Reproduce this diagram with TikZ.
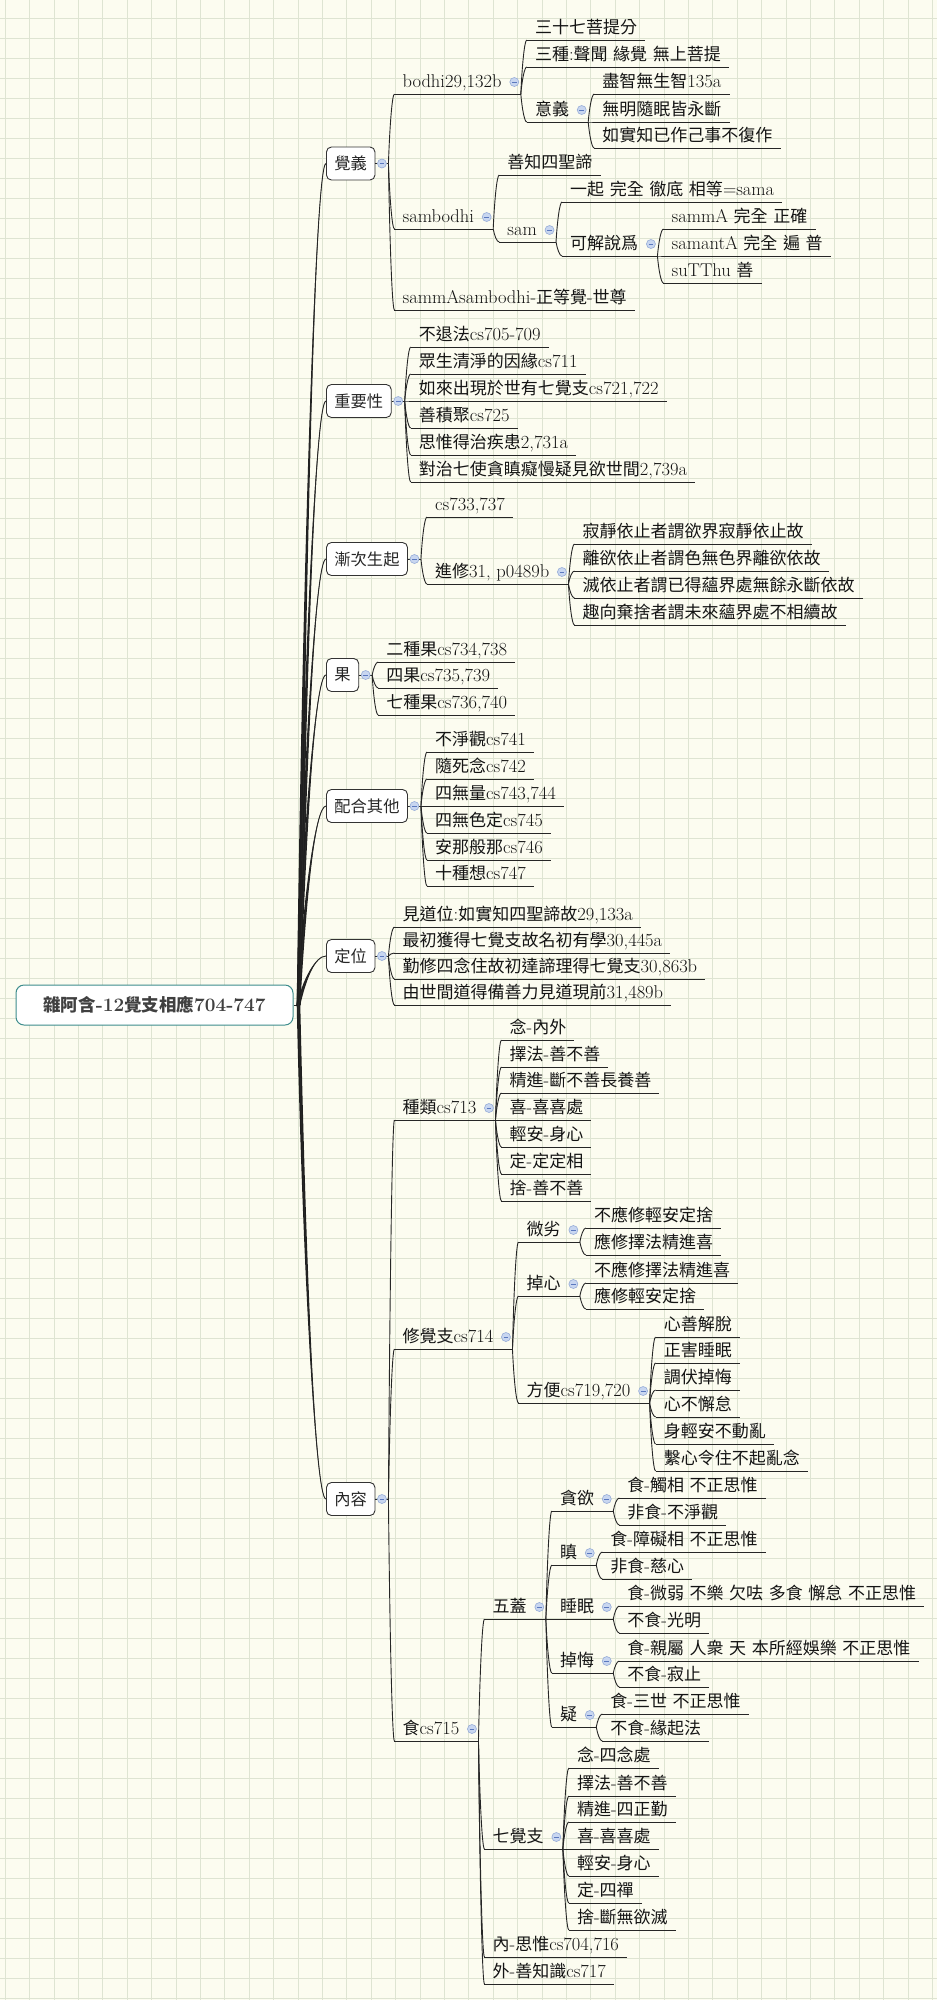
\documentclass[tikz,border=0pt]{standalone}
\usepackage{fontspec}
\usetikzlibrary{calc}
\newfontfamily\cjkfont{Noto Sans CJK TC}[Scale=0.919]
\XeTeXinterchartokenstate=1
\newXeTeXintercharclass\CJKcls
\makeatletter
\count@="4E00
\loop
\XeTeXcharclass\count@=\CJKcls
\ifnum\count@<"9FFF
\advance\count@\@ne
\repeat
\makeatother
\XeTeXinterchartoks 0 \CJKcls = {\begingroup\cjkfont}
\XeTeXinterchartoks 4095 \CJKcls = {\begingroup\cjkfont}
\XeTeXinterchartoks \CJKcls 0 = {\endgroup}
\XeTeXinterchartoks \CJKcls 4095 = {\endgroup}
\definecolor{bgc}{RGB}{252,252,240}
\definecolor{gridc}{RGB}{222,228,210}
\definecolor{togf}{RGB}{200,214,240}
\definecolor{togd}{RGB}{150,172,215}
\definecolor{togm}{RGB}{90,120,190}
\definecolor{rootd}{RGB}{60,140,140}
\tikzset{
  kid/.style={anchor=south west, inner xsep=8pt, inner ysep=0pt, text height=13pt, text depth=6.5pt, font=\fontsize{18.5}{21}\selectfont, text=black!92},
  uline/.style={line width=0.9pt, black!85},
  branch/.style={line width=0.9pt, black!85},
  tog/.style={circle, draw=togd, fill=togf, line width=0.6pt, minimum size=9pt, inner sep=0pt,
    path picture={\draw[togm, line width=0.8pt] ([xshift=-2.4pt]path picture bounding box.center) -- ([xshift=2.4pt]path picture bounding box.center);}},
  lone/.style={draw=black!80, line width=0.9pt, rounded corners=5pt, fill=white, minimum height=33pt, inner xsep=8pt, inner ysep=0pt, anchor=west, font=\fontsize{17.7}{20}\selectfont, text=black!85},
  rootbox/.style={draw=rootd, line width=1pt, rounded corners=8pt, fill=white, minimum width=277pt, minimum height=40pt, font=\bfseries\fontsize{19}{22}\selectfont, text=black!75}
}
\newcommand\conn[2]{\draw[branch] let \p1=(#1), \p2=(#2) in (\p1) .. controls ({\x1+0.2*(\x2-\x1)},{\y1+0.5*(\y2-\y1)}) and ({\x1+0.6*(\x2-\x1)},\y2) .. (\p2);}
\newcommand\kid[4]{\node[kid] (#1) at ($(#2 |- 0,#3)+(6,0)$) {#4};
  \draw[uline] (#1.south west) -- (#1.south east);
  \conn{#2}{#1.south west}}
\newcommand\pkid[4]{\node[kid] (#1) at ($(#2 |- 0,#3)+(6,0)$) {#4};
  \coordinate (#1o) at ($(#1.south east)+(11,0)$);
  \draw[uline] (#1.south west) -- (#1o);
  \node[tog] (#1t) at ($(#1.south east)+(4.5,-12)$) {};
  \conn{#2}{#1.south west}}
\newcommand\lbox[3]{\node[lone] (#1) at (326,#2) {#3};
  \coordinate (#1o) at ($(#1.east)+(13,0)$);
  \draw[branch] (#1.east) -- (#1o);
  \node[tog] (#1t) at ($(#1.east)+(6.5,0)$) {};
  \fill[black!88] let \p1=(rootout), \p2=(#1.west) in
   ({\x1-1.8pt},\y1) .. controls ({\x1-1.8pt+0.2*(\x2-\x1)},{\y1+0.5*(\y2-\y1)}) and ({\x1+0.6*(\x2-\x1)},\y2) .. (\x2,\y2)
   .. controls ({\x1+0.6*(\x2-\x1)},\y2) and ({\x1+1.8pt+0.2*(\x2-\x1)},{\y1+0.5*(\y2-\y1)}) .. ({\x1+1.8pt},\y1) -- cycle;
  \conn{rootout}{#1.west}}
\begin{document}
\begin{tikzpicture}[x=1pt,y=-1pt]
\useasboundingbox (0,0) rectangle (937,2000);
\fill[bgc] (0,0) rectangle (937,2000);
\foreach \i in {0,...,38} \draw[gridc, line width=0.8pt] ({5.2+24.4*\i},0) -- ({5.2+24.4*\i},2000);
\foreach \j in {0,...,100} \draw[gridc, line width=0.8pt] (0,{18+20*\j}) -- (937,{18+20*\j});

\node[rootbox] (root) at (154.5,1005) {雜阿含-12覺支相應704-747};
\coordinate (rootout) at ($(root.east)+(5,0)$);
\draw[branch] (root.east) -- (rootout);

% 覺義
\lbox{jy}{163.5}{覺義}
\pkid{bo}{jyo}{94}{bodhi29,132b}
\kid{a1}{boo}{40}{三十七菩提分}
\kid{a2}{boo}{67}{三種:聲聞 緣覺 無上菩提}
\pkid{yy}{boo}{122}{意義}
\kid{a3}{yyo}{94}{盡智無生智135a}
\kid{a4}{yyo}{122}{無明隨眠皆永斷}
\kid{a5}{yyo}{148}{如實知已作己事不復作}
\pkid{sb}{jyo}{229}{sambodhi}
\kid{b1}{sbo}{175}{善知四聖諦}
\pkid{sm}{sbo}{242}{sam}
\kid{b2}{smo}{202}{一起 完全 徹底 相等=sama}
\pkid{kj}{smo}{256}{可解說爲}
\kid{b3}{kjo}{229}{sammA 完全 正確}
\kid{b4}{kjo}{256}{samantA 完全 遍 普}
\kid{b5}{kjo}{283}{suTThu 善}
\kid{b6}{jyo}{310}{sammAsambodhi-正等覺-世尊}

% 重要性
\lbox{zy}{401}{重要性}
\kid{c1}{zyo}{347}{不退法cs705-709}
\kid{c2}{zyo}{374}{眾生清淨的因緣cs711}
\kid{c3}{zyo}{401}{如來出現於世有七覺支cs721,722}
\kid{c4}{zyo}{428}{善積聚cs725}
\kid{c5}{zyo}{455}{思惟得治疾患2,731a}
\kid{c6}{zyo}{482}{對治七使貪瞋癡慢疑見欲世間2,739a}

% 漸次生起
\lbox{jc}{559}{漸次生起}
\kid{d1}{jco}{517}{cs733,737}
\pkid{d2}{jco}{584}{進修31, p0489b}
\kid{d3}{d2o}{544}{寂靜依止者謂欲界寂靜依止故}
\kid{d4}{d2o}{571}{離欲依止者謂色無色界離欲依故}
\kid{d5}{d2o}{598}{滅依止者謂已得蘊界處無餘永斷依故}
\kid{d6}{d2o}{625}{趣向棄捨者謂未來蘊界處不相續故}

% 果
\lbox{gu}{675}{果}
\kid{e1}{guo}{662}{二種果cs734,738}
\kid{e2}{guo}{688}{四果cs735,739}
\kid{e3}{guo}{715}{七種果cs736,740}

% 配合其他
\lbox{ph}{806}{配合其他}
\kid{p1}{pho}{752}{不淨觀cs741}
\kid{p2}{pho}{779}{隨死念cs742}
\kid{p3}{pho}{806}{四無量cs743,744}
\kid{p4}{pho}{833}{四無色定cs745}
\kid{p5}{pho}{860}{安那般那cs746}
\kid{p6}{pho}{886}{十種想cs747}

% 定位
\lbox{dw}{956}{定位}
\kid{q1}{dwo}{927}{見道位:如實知四聖諦故29,133a}
\kid{q2}{dwo}{953}{最初獲得七覺支故名初有學30,445a}
\kid{q3}{dwo}{979}{勤修四念住故初達諦理得七覺支30,863b}
\kid{q4}{dwo}{1005}{由世間道得備善力見道現前31,489b}

% 內容
\lbox{nr}{1499}{內容}
\pkid{r1}{nro}{1120}{種類cs713}
\kid{s1}{r1o}{1040}{念-內外}
\kid{s2}{r1o}{1067}{擇法-善不善}
\kid{s3}{r1o}{1093}{精進-斷不善長養善}
\kid{s4}{r1o}{1120}{喜-喜喜處}
\kid{s5}{r1o}{1147}{輕安-身心}
\kid{s6}{r1o}{1174}{定-定定相}
\kid{s7}{r1o}{1201}{捨-善不善}
\pkid{r2}{nro}{1349}{修覺支cs714}
\pkid{t1}{r2o}{1242}{微劣}
\kid{u1}{t1o}{1228}{不應修輕安定捨}
\kid{u2}{t1o}{1255}{應修擇法精進喜}
\pkid{t2}{r2o}{1296}{掉心}
\kid{u3}{t2o}{1283}{不應修擇法精進喜}
\kid{u4}{t2o}{1309}{應修輕安定捨}
\pkid{t3}{r2o}{1403}{方便cs719,720}
\kid{v1}{t3o}{1337}{心善解脫}
\kid{v2}{t3o}{1363}{正害睡眠}
\kid{v3}{t3o}{1390}{調伏掉悔}
\kid{v4}{t3o}{1417}{心不懈怠}
\kid{v5}{t3o}{1444}{身輕安不動亂}
\kid{v6}{t3o}{1471}{繫心令住不起亂念}
\pkid{r3}{nro}{1741}{食cs715}
\pkid{w1}{r3o}{1619}{五蓋}
\pkid{h1}{w1o}{1511}{貪欲}
\kid{i1}{h1o}{1498}{食-觸相 不正思惟}
\kid{i2}{h1o}{1525}{非食-不淨觀}
\pkid{h2}{w1o}{1565}{瞋}
\kid{i3}{h2o}{1552}{食-障礙相 不正思惟}
\kid{i4}{h2o}{1579}{非食-慈心}
\pkid{h3}{w1o}{1619}{睡眠}
\kid{i5}{h3o}{1606}{食-微弱 不樂 欠呿 多食 懈怠 不正思惟}
\kid{i6}{h3o}{1633}{不食-光明}
\pkid{h4}{w1o}{1673}{掉悔}
\kid{i7}{h4o}{1661}{食-親屬 人衆 天 本所經娛樂 不正思惟}
\kid{i8}{h4o}{1687}{不食-寂止}
\pkid{h5}{w1o}{1727}{疑}
\kid{i9}{h5o}{1714}{食-三世 不正思惟}
\kid{i10}{h5o}{1741}{不食-緣起法}
\pkid{w2}{r3o}{1849}{七覺支}
\kid{j1}{w2o}{1768}{念-四念處}
\kid{j2}{w2o}{1796}{擇法-善不善}
\kid{j3}{w2o}{1822}{精進-四正勤}
\kid{j4}{w2o}{1849}{喜-喜喜處}
\kid{j5}{w2o}{1876}{輕安-身心}
\kid{j6}{w2o}{1903}{定-四禪}
\kid{j7}{w2o}{1930}{捨-斷無欲滅}
\kid{w3}{r3o}{1957}{內-思惟cs704,716}
\kid{w4}{r3o}{1984}{外-善知識cs717}
\end{tikzpicture}
\end{document}
